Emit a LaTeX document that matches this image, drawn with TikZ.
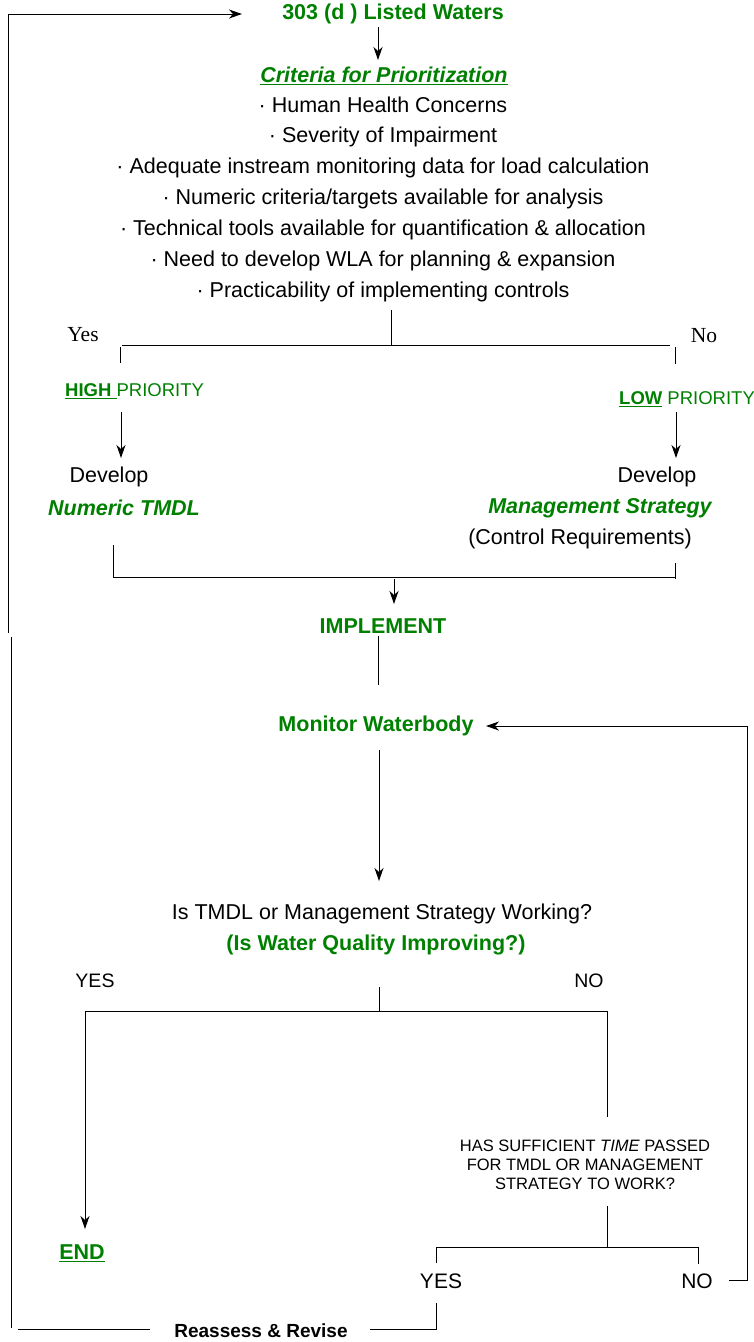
\documentclass[tikz,border=0pt]{standalone}
\usepackage{fontspec}
\setmainfont{Liberation Sans}
\newfontfamily\seriffont{Liberation Serif}
\usetikzlibrary{arrows.meta}
\definecolor{tgreen}{RGB}{0,128,0}
\begin{document}
\begin{tikzpicture}[x=1pt,y=-1pt,
  ln/.style={line width=1pt},
  arr/.style={line width=1pt,-{Stealth[length=13pt,width=9pt,inset=4pt]}},
  txt/.style={inner sep=0pt,font=\fontsize{21.5}{25}\selectfont},
  mid/.style={inner sep=0pt,font=\fontsize{19.5}{23}\selectfont},
  gbold/.style={inner sep=0pt,text=tgreen,font=\fontsize{21.5}{25}\selectfont\bfseries},
  gbi/.style={inner sep=0pt,text=tgreen,font=\fontsize{21.5}{25}\selectfont\bfseries\itshape},
  serif/.style={inner sep=0pt,font=\fontsize{21.5}{25}\selectfont\seriffont},
  prio/.style={inner sep=0pt,text=tgreen,anchor=west,font=\fontsize{18.5}{22}\selectfont},
  small/.style={inner sep=0pt,font=\fontsize{16.5}{19}\selectfont,align=center},
  big/.style={inner sep=0pt,font=\fontsize{21}{24}\selectfont}]
\useasboundingbox (0,0) rectangle (754,1342);

% texts
\node[gbold] (n303) at (393,14) {303 (d ) Listed Waters};
\node[gbi] (crit) at (384,76) {\underline{Criteria for Prioritization}};
\node[txt] (b1) at (383,105) {· Human Health Concerns};
\node[txt] (b2) at (383,137) {· Severity of Impairment};
\node[txt] (b3) at (383,168) {· Adequate instream monitoring data for load calculation};
\node[txt] (b4) at (383,199) {· Numeric criteria/targets available for analysis};
\node[txt] (b5) at (383,230) {· Technical tools available for quantification \& allocation};
\node[txt] (b6) at (383,261) {· Need to develop WLA for planning \& expansion};
\node[txt] (b7) at (383,292) {· Practicability of implementing controls};
\node[serif] (yes1) at (83,335) {Yes};
\node[serif] (no1) at (704,336) {No};
\node[prio] (high) at (65,391) {\textbf{\underline{HIGH\ }}PRIORITY};
\node[prio] (low) at (619,399) {\textbf{\underline{LOW}} PRIORITY};
\node[txt] (dev1) at (109,477) {Develop};
\node[gbi] (ntmdl) at (124,508) {Numeric TMDL};
\node[txt] (dev2) at (657,477) {Develop};
\node[gbi] (mstrat) at (600,508) {Management Strategy};
\node[txt] (ctrl) at (580,539) {(Control Requirements)};
\node[gbold] (impl) at (383,626) {IMPLEMENT};
\node[gbold] (mon) at (376,726) {Monitor Waterbody};
\node[txt] (q1) at (382,914) {Is TMDL or Management Strategy Working?};
\node[gbold] (q2) at (376,945) {(Is Water Quality Improving?)};
\node[mid] (yes2) at (95,981) {YES};
\node[mid] (no2) at (589,981) {NO};
\node[small] (has) at (585,1165) {HAS SUFFICIENT \textit{TIME} PASSED\\FOR TMDL OR MANAGEMENT\\STRATEGY TO WORK?};
\node[gbold] (end) at (82,1253) {\underline{END}};
\node[big] (yes3) at (441,1281) {YES};
\node[big] (no3) at (697,1281) {NO};
\node[inner sep=0pt,font=\fontsize{19}{22}\selectfont\bfseries] (reas) at (261,1331) {Reassess \& Revise};

% coordinates
\coordinate (lvA) at (8,633);
\coordinate (lvT) at (8,14);
\coordinate (topTip) at (242,14);
\coordinate (lvB1) at (11,637);
\coordinate (lvB2) at (11,1328);
\coordinate (bl1) at (18,1329);
\coordinate (bl2) at (150,1329);
\coordinate (br1) at (370,1329);
\coordinate (br2) at (436,1329);
\coordinate (br3) at (436,1303);
\coordinate (a1s) at (378,27);
\coordinate (a1e) at (378,60);
\coordinate (s1) at (391,310);
\coordinate (s2) at (391,345);
\coordinate (h1l) at (122,345);
\coordinate (h1r) at (670,345);
\coordinate (tl1) at (120,347);
\coordinate (tl2) at (120,363);
\coordinate (tr1) at (675,347);
\coordinate (tr2) at (675,364);
\coordinate (al1) at (121,412);
\coordinate (al2) at (121,458);
\coordinate (ar1) at (676,412);
\coordinate (ar2) at (676,458);
\coordinate (bk1) at (113,545);
\coordinate (bk2) at (113,577);
\coordinate (bk3) at (675,577);
\coordinate (bk4) at (675,563);
\coordinate (bk5) at (675,579);
\coordinate (ai1) at (394,579);
\coordinate (ai2) at (394,604);
\coordinate (im1) at (378,636);
\coordinate (im2) at (378,685);
\coordinate (rl1) at (729,1280);
\coordinate (rl2) at (747,1280);
\coordinate (rl3) at (747,726);
\coordinate (rl4) at (486,726);
\coordinate (am1) at (379,750);
\coordinate (am2) at (379,881);
\coordinate (q3) at (379,987);
\coordinate (q4) at (379,1011);
\coordinate (hl) at (85,1011);
\coordinate (hr) at (607,1011);
\coordinate (endTip) at (85,1229);
\coordinate (hasT) at (607,1117);
\coordinate (hasB) at (607,1206);
\coordinate (j2) at (607,1247);
\coordinate (y3l) at (436,1247);
\coordinate (y3b) at (436,1263);
\coordinate (n3r) at (698,1247);
\coordinate (n3b) at (698,1264);

% connectors
\draw[arr] (lvA) -- (lvT) -- (topTip);
\draw[ln] (lvB1) -- (lvB2);
\draw[ln] (bl1) -- (bl2);
\draw[ln] (br3) -- (br2) -- (br1);
\draw[arr] (a1s) -- (a1e);
\draw[ln] (s1) -- (s2);
\draw[ln] (h1l) -- (h1r);
\draw[ln] (tl1) -- (tl2);
\draw[ln] (tr1) -- (tr2);
\draw[arr] (al1) -- (al2);
\draw[arr] (ar1) -- (ar2);
\draw[ln] (bk1) -- (bk2) -- (bk3);
\draw[ln] (bk4) -- (bk5);
\draw[arr] (ai1) -- (ai2);
\draw[ln] (im1) -- (im2);
\draw[arr] (rl1) -- (rl2) -- (rl3) -- (rl4);
\draw[arr] (am1) -- (am2);
\draw[ln] (q3) -- (q4);
\draw[ln] (hr) -- (hl);
\draw[arr] (hl) -- (endTip);
\draw[ln] (hr) -- (hasT);
\draw[ln] (hasB) -- (j2);
\draw[ln] (y3b) -- (y3l) -- (n3r) -- (n3b);
\end{tikzpicture}
\end{document}
